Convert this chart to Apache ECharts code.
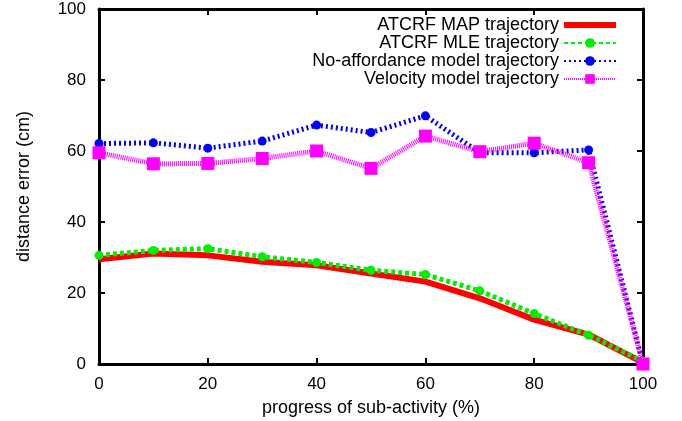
<!DOCTYPE html>
<html>
<head>
<meta charset="utf-8">
<script src="https://cdn.jsdelivr.net/npm/echarts@6/dist/echarts.min.js"></script>
<style>
  html, body { margin: 0; padding: 0; background: #fff; }
  #main { width: 682px; height: 421px; }
</style>
</head>
<body>
<div id="main"></div>
<script>
// progress of sub-activity (%)
var progress = [0, 10, 20, 30, 40, 50, 60, 70, 80, 90, 100];
var mapErr      = [29.5, 31.1, 30.6, 28.8, 27.8, 25.5, 23.2, 18.5, 12.5, 8.3, 0.4];
var mleErr      = [30.6, 32.0, 32.5, 30.2, 28.6, 26.4, 25.2, 20.6, 14.2, 8.1, 0.8];
var noAffErr    = [62.1, 62.3, 60.8, 62.8, 67.3, 65.2, 69.9, 59.5, 59.5, 60.3, 0];
var velocityErr = [59.5, 56.4, 56.5, 57.9, 60.0, 55.1, 64.2, 59.8, 62.2, 56.7, 0];
var seriesNames = ['ATCRF MAP trajectory', 'ATCRF MLE trajectory',
                   'No-affordance model trajectory', 'Velocity model trajectory'];

function pairs(vals) {
    var out = [];
    for (var i = 0; i < progress.length; i++) {
        out.push([progress[i], vals[i]]);
    }
    return out;
}

var myChart = echarts.init(document.getElementById('main'));
var font = 'Liberation Sans, Arial, sans-serif';

var tickAxis = {
    min: 0, max: 100, interval: 20,
    axisLine: {show: true, onZero: false, lineStyle: {color: '#000', width: 3}},
    axisTick: {show: true, inside: true, length: 6, lineStyle: {color: '#000', width: 2}},
    splitLine: {show: false}
};

var option = {
    animation: false,
    backgroundColor: '#fff',
    textStyle: {fontFamily: font},
    grid: {left: 99, right: 39, top: 9, bottom: 57, containLabel: false, outerBoundsMode: 'none'},
    legend: {
        orient: 'vertical',
        right: 60,
        top: 11,
        align: 'right',
        itemWidth: 52,
        itemHeight: 12,
        itemGap: 0,
        textStyle: {fontSize: 18, color: '#000', fontFamily: font, lineHeight: 16, padding: [0, 0, 0, 0]},
        data: [
            {name: seriesNames[0], icon: 'path://M0,0 L52,0 L52,6 L0,6 Z'},
            {name: seriesNames[1]},
            {name: seriesNames[2]},
            {name: seriesNames[3]}
        ]
    },
    xAxis: [
        Object.assign({}, tickAxis, {
            type: 'value', position: 'bottom',
            name: 'progress of sub-activity (%)',
            nameLocation: 'middle', nameGap: 35,
            nameTextStyle: {fontSize: 18, color: '#000'},
            axisLabel: {fontSize: 17, color: '#000', margin: 12}
        }),
        Object.assign({}, tickAxis, {
            type: 'value', position: 'top',
            axisLabel: {show: false}
        })
    ],
    yAxis: [
        Object.assign({}, tickAxis, {
            type: 'value', position: 'left',
            name: 'distance error (cm)',
            nameLocation: 'middle', nameGap: 66,
            nameTextStyle: {fontSize: 18, color: '#000'},
            axisLabel: {fontSize: 17, color: '#000', margin: 13}
        }),
        Object.assign({}, tickAxis, {
            type: 'value', position: 'right',
            axisLabel: {show: false}
        })
    ],
    series: [
        {
            name: seriesNames[0], type: 'line', clip: false,
            data: pairs(mapErr),
            symbol: 'none',
            itemStyle: {color: '#ff0000'},
            lineStyle: {color: '#ff0000', width: 6, type: 'solid'}
        },
        {
            name: seriesNames[1], type: 'line', clip: false,
            data: pairs(mleErr),
            symbol: 'circle', symbolSize: 9,
            itemStyle: {color: '#00ee00'},
            lineStyle: {color: '#00ee00', width: 5, type: [4, 3]}
        },
        {
            name: seriesNames[2], type: 'line', clip: false,
            data: pairs(noAffErr),
            symbol: 'circle', symbolSize: 9,
            itemStyle: {color: '#0000ff'},
            lineStyle: {color: '#0000ff', width: 5, type: [2, 3]}
        },
        {
            name: seriesNames[3], type: 'line', clip: false,
            data: pairs(velocityErr),
            symbol: 'rect', symbolSize: 13,
            itemStyle: {color: '#ff00ff'},
            lineStyle: {color: '#ff00ff', width: 5, type: [1, 1]}
        }
    ]
};

myChart.setOption(option);
</script>
</body>
</html>
